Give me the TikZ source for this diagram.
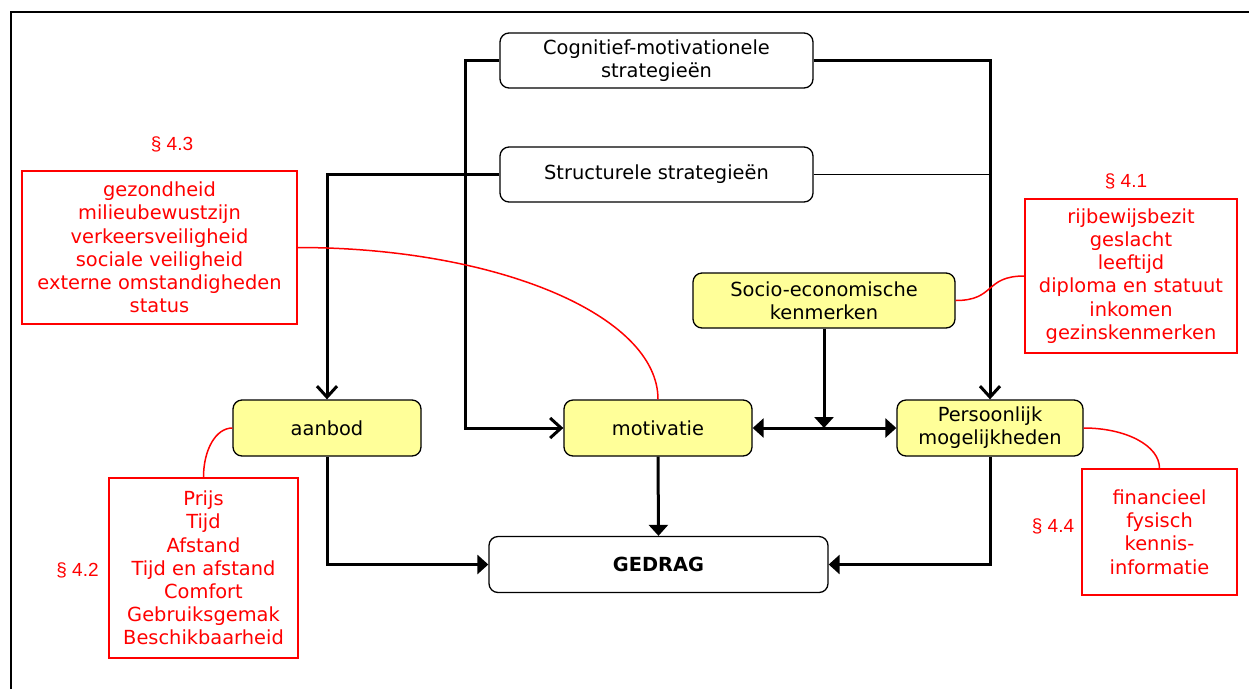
\documentclass[tikz,border=0pt]{standalone}
\usepackage{fontspec}
\setmainfont{DejaVu Sans}
\newfontfamily\labelfont{Liberation Sans}
\usetikzlibrary{arrows.meta}
\definecolor{boxyellow}{RGB}{255,255,153}
\definecolor{notered}{RGB}{255,0,0}

\begin{document}
\begin{tikzpicture}[x=1pt,y=-1pt,
  every node/.style={font=\fontsize{19.4}{23.2}\selectfont, align=center, inner sep=0pt},
  stratbox/.style={draw, line width=1.3pt, rounded corners=9pt, minimum width=313pt, minimum height=55pt},
  factor/.style={draw, fill=boxyellow, line width=1.3pt, rounded corners=9pt, minimum height=56pt},
  notebox/.style={draw=notered, text=notered, line width=1.5pt},
  seclabel/.style={text=notered, font=\labelfont\fontsize{19}{23}\selectfont},
  flow/.style={line width=3pt},
  fillhead/.style={-{Triangle[length=11pt,width=19pt]}},
  openhead/.style={-{Straight Barb[length=11pt,width=20pt]}},
  note/.style={draw=notered, line width=1.5pt}
]
\useasboundingbox (0,0) rectangle (1249,689);

% outer frame
\draw[line width=1.6pt] (11,689) -- (11,12) -- (1249,12);

% strategy boxes
\node[stratbox] (cog) at (656.5,60.5) {Cognitief-motivationele\\strategieën};
\node[stratbox] (struct) at (656.5,174.5) {Structurele strategieën};

% factors
\node[factor, minimum width=262pt, minimum height=55pt] (socio) at (824,300.5) {Socio-economische\\kenmerken};
\node[factor, minimum width=188pt] (aanbod) at (327,428) {aanbod};
\node[factor, minimum width=188pt] (motiv) at (658,428) {motivatie};
\node[factor, minimum width=186pt] (pers) at (990,428) {Persoonlijk\\mogelijkheden};

% behaviour
\node[draw, line width=1.3pt, rounded corners=9pt, minimum width=339pt, minimum height=56pt, font=\fontsize{19.4}{23.2}\selectfont\bfseries] (gedrag) at (658.5,564.5) {GEDRAG};

% annotation boxes
\node[notebox, minimum width=275pt, minimum height=153pt] (n43) at (159.5,247.5)
  {gezondheid\\milieubewustzijn\\verkeersveiligheid\\sociale veiligheid\\externe omstandigheden\\status};
\node[notebox, minimum width=212pt, minimum height=154pt] (n41) at (1131,276)
  {rijbewijsbezit\\geslacht\\leeftijd\\diploma en statuut\\inkomen\\gezinskenmerken};
\node[notebox, minimum width=189pt, minimum height=180pt] (n42) at (203.5,568)
  {Prijs\\Tijd\\Afstand\\Tijd en afstand\\Comfort\\Gebruiksgemak\\Beschikbaarheid};
\node[notebox, minimum width=155pt, minimum height=126pt] (n44) at (1159.5,532)
  {financieel\\fysisch\\kennis-\\informatie};

% section labels
\node[seclabel] (s43) at (172,144) {§ 4.3};
\node[seclabel] (s41) at (1126,181) {§ 4.1};
\node[seclabel] (s42) at (77.5,570) {§ 4.2};
\node[seclabel] (s44) at (1053,526) {§ 4.4};

% flows
\draw[flow, openhead] (cog.west) -- ++(-34,0) |- (motiv.west);
\draw[flow, openhead] (cog.east) -| (pers.north);
\draw[flow, openhead] (struct.west) -| (aanbod.north);
\draw[line width=1pt] (struct.east) -- (struct.east -| pers.north);
\draw[flow, fillhead] (socio.south) -- (socio.south |- motiv.east);
\draw[flow, {Triangle[length=11pt,width=19pt]}-{Triangle[length=11pt,width=19pt]}] (motiv.east) -- (pers.west);
\draw[flow, fillhead] (motiv.south) -- (gedrag.north);
\draw[flow, fillhead] (aanbod.south) |- (gedrag.west);
\draw[flow, fillhead] (pers.south) |- (gedrag.east);

% annotation links
\draw[note] (n43.east) .. controls +(199,0) and +(0,-84) .. (motiv.north);
\draw[note] (socio.east) .. controls +(40,0) and +(-40,0) .. (n41.west);
\draw[note] (aanbod.west) .. controls +(-16.5,0) and +(0,-27.6) .. (n42.north);
\draw[note] (pers.east) .. controls +(42.5,0) and +(0,-22.6) .. (n44.north);
\end{tikzpicture}
\end{document}
